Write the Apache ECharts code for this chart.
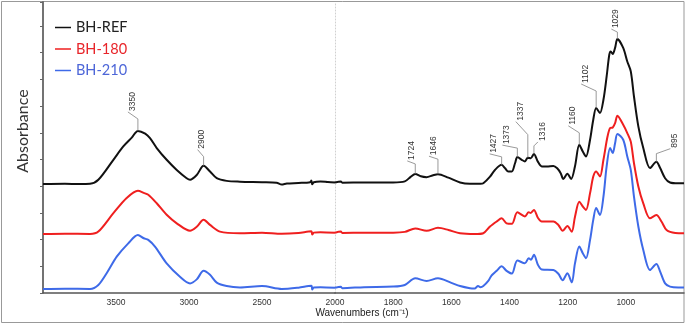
<!DOCTYPE html>
<html>
<head>
<meta charset="utf-8">
<script src="https://cdn.jsdelivr.net/npm/echarts@6/dist/echarts.min.js"></script>
<style>
  html, body { margin: 0; padding: 0; background: #fff; }
  #chart { width: 685px; height: 325px; }
</style>
</head>
<body>
<div id="chart"></div>
<script>
// FTIR spectra, [wavenumber (cm-1), absorbance (offset, arb. units)]
const seriesNames = ['BH-REF', 'BH-180', 'BH-210'];

const refSpectrum = [
  [4000, 0.408], [3850, 0.409], [3750, 0.408], [3678, 0.409], [3621, 0.424], [3518, 0.499],
  [3450, 0.549], [3392, 0.582], [3350, 0.607], [3300, 0.597], [3267, 0.580], [3221, 0.543],
  [3153, 0.499], [3084, 0.461], [3016, 0.430], [2993, 0.424], [2947, 0.442], [2900, 0.477],
  [2856, 0.455], [2810, 0.430], [2742, 0.420], [2651, 0.417], [2500, 0.415], [2400, 0.413],
  [2365, 0.406], [2330, 0.410], [2250, 0.412], [2170, 0.415], [2162, 0.421], [2156, 0.407],
  [2145, 0.415], [2100, 0.418], [2050, 0.416], [2000, 0.414],
  [1980, 0.418], [1975, 0.413], [1900, 0.414], [1800, 0.414], [1760, 0.418], [1740, 0.435],
  [1724, 0.446], [1705, 0.437], [1685, 0.434], [1665, 0.440], [1646, 0.445], [1610, 0.432],
  [1570, 0.414], [1536, 0.409], [1500, 0.409], [1490, 0.411], [1467, 0.436], [1450, 0.461],
  [1427, 0.480], [1415, 0.467], [1404, 0.455], [1392, 0.455], [1381, 0.486], [1373, 0.509],
  [1358, 0.499], [1347, 0.493], [1337, 0.507], [1327, 0.505], [1316, 0.521], [1303, 0.493],
  [1289, 0.474], [1272, 0.474], [1249, 0.476], [1236, 0.467], [1224, 0.449], [1215, 0.427],
  [1201, 0.447], [1188, 0.427], [1175, 0.474], [1160, 0.555], [1148, 0.530], [1137, 0.511],
  [1123, 0.574], [1112, 0.649], [1102, 0.693], [1089, 0.674], [1077, 0.724], [1066, 0.811],
  [1057, 0.892], [1052, 0.905], [1045, 0.895], [1037, 0.918], [1029, 0.951], [1009, 0.918],
  [995, 0.867], [983, 0.830], [972, 0.736], [957, 0.624], [940, 0.543], [917, 0.468],
  [895, 0.492], [882, 0.468], [865, 0.430], [848, 0.414], [820, 0.411], [800, 0.411]
];

const spectrum180 = [
  [4000, 0.221], [3850, 0.222], [3678, 0.221], [3621, 0.230], [3518, 0.299], [3427, 0.356],
  [3350, 0.383], [3310, 0.375], [3279, 0.368], [3221, 0.336], [3153, 0.293], [3084, 0.261],
  [2993, 0.233], [2947, 0.248], [2900, 0.274], [2856, 0.255], [2788, 0.230], [2651, 0.224],
  [2500, 0.226], [2365, 0.222], [2250, 0.225], [2162, 0.231], [2156, 0.219], [2145, 0.226],
  [2100, 0.228], [2000, 0.226],
  [1980, 0.230], [1975, 0.225], [1900, 0.226], [1800, 0.226], [1760, 0.229], [1724, 0.242],
  [1685, 0.233], [1646, 0.244], [1610, 0.236], [1570, 0.224], [1520, 0.221], [1490, 0.224],
  [1467, 0.249], [1444, 0.268], [1427, 0.280], [1410, 0.261], [1392, 0.259], [1373, 0.302],
  [1347, 0.287], [1334, 0.302], [1327, 0.300], [1316, 0.311], [1302, 0.281], [1289, 0.268],
  [1249, 0.268], [1232, 0.255], [1217, 0.233], [1201, 0.251], [1186, 0.229], [1175, 0.285],
  [1160, 0.342], [1148, 0.324], [1137, 0.311], [1123, 0.374], [1112, 0.436], [1102, 0.455],
  [1089, 0.436], [1077, 0.499], [1063, 0.586], [1054, 0.618], [1045, 0.620], [1037, 0.636],
  [1029, 0.664], [1009, 0.630], [995, 0.599], [983, 0.567], [972, 0.486], [957, 0.399],
  [940, 0.336], [917, 0.280], [895, 0.292], [877, 0.267], [860, 0.236], [830, 0.225], [800, 0.224]
];

const spectrum210 = [
  [4000, 0.015], [3850, 0.016], [3678, 0.015], [3621, 0.030], [3564, 0.074], [3495, 0.136],
  [3416, 0.186], [3350, 0.217], [3310, 0.205], [3279, 0.199], [3233, 0.174], [3153, 0.111],
  [3062, 0.061], [2993, 0.036], [2947, 0.051], [2900, 0.083], [2856, 0.068], [2810, 0.039],
  [2742, 0.026], [2651, 0.021], [2500, 0.026], [2365, 0.015], [2250, 0.020], [2162, 0.027],
  [2156, 0.013], [2145, 0.021], [2100, 0.022], [2000, 0.020],
  [1980, 0.023], [1975, 0.018], [1900, 0.022], [1800, 0.024], [1760, 0.030], [1724, 0.055],
  [1685, 0.045], [1646, 0.055], [1600, 0.038], [1570, 0.026], [1536, 0.018], [1520, 0.017],
  [1508, 0.026], [1500, 0.022], [1490, 0.026], [1473, 0.045], [1462, 0.065], [1444, 0.083],
  [1427, 0.100], [1410, 0.083], [1392, 0.073], [1373, 0.122], [1347, 0.111], [1334, 0.130],
  [1326, 0.125], [1316, 0.143], [1302, 0.105], [1289, 0.088], [1249, 0.086], [1232, 0.072],
  [1217, 0.048], [1201, 0.074], [1186, 0.040], [1175, 0.110], [1160, 0.174], [1148, 0.149],
  [1137, 0.130], [1123, 0.199], [1112, 0.274], [1102, 0.318], [1089, 0.292], [1077, 0.361],
  [1066, 0.474], [1054, 0.543], [1045, 0.524], [1037, 0.561], [1029, 0.596], [1009, 0.574],
  [995, 0.511], [983, 0.461], [972, 0.361], [957, 0.249], [940, 0.161], [917, 0.086],
  [895, 0.109], [882, 0.080], [865, 0.036], [848, 0.024], [820, 0.021], [800, 0.021]
];

// labelled peaks on the BH-REF curve
const peakLabels = [3350, 2900, 1724, 1646, 1427, 1373, 1337, 1316, 1160, 1102, 1029, 895];

// leader line shape per label: [vertical px, diagonal dx, diagonal dy]
const leaderShape = [
  [12, -10, -7], [9, -6, -7], [10, -8, -3], [15, -9, -3], [8, -12, -3], [9, -15, -3],
  [23, -12, -13], [8, 4, -4], [12, -11, -7], [17, -15, -7], [7, -6, -3], [8, 14, -5]
];

const colors = ['#111111', '#ef1f1f', '#3e6ae8'];
const legendColors = ['#222222', '#e8252a', '#4d66d8'];
const spectra = [refSpectrum, spectrum180, spectrum210];

const chart = echarts.init(document.getElementById('chart'));

const lineSeries = [];
spectra.forEach((spec, i) => {
  [0, 1].forEach(g => {
    lineSeries.push({
      name: seriesNames[i],
      type: 'line',
      xAxisIndex: g,
      yAxisIndex: g,
      data: spec.filter(p => g === 0 ? p[0] >= 2000 : p[0] <= 2000),
      showSymbol: false,
      symbol: 'none',
      smooth: 0.3,
      lineStyle: { color: colors[i], width: 2 },
      itemStyle: { color: colors[i] },
      z: 3 - i
    });
  });
});

function renderPeak(params, api) {
  const p = api.coord([api.value(0), api.value(1)]);
  const s = leaderShape[api.value(2)];
  const top = [p[0], p[1] - s[0]];
  const end = [top[0] + s[1], top[1] + s[2]];
  return {
    type: 'group',
    children: [
      {
        type: 'polyline',
        shape: { points: [p, top, end] },
        style: { stroke: '#808080', lineWidth: 0.8, fill: null }
      },
      {
        type: 'text',
        x: end[0],
        y: end[1] - 1,
        rotation: Math.PI / 2,
        style: {
          text: String(api.value(0)),
          align: 'left',
          verticalAlign: 'top',
          font: '8.5px "Liberation Sans", Arial, sans-serif',
          fill: '#333'
        }
      }
    ]
  };
}

const peakData = peakLabels.map((w, i) => {
  const pt = refSpectrum.find(p => p[0] === w);
  return [w, pt[1], i];
});

const peakSeries = [0, 1].map(g => ({
  type: 'custom',
  xAxisIndex: g,
  yAxisIndex: g,
  data: peakData.filter(d => g === 0 ? d[0] > 2000 : d[0] < 2000),
  renderItem: renderPeak,
  silent: true,
  clip: false,
  z: 5
}));

const tickFont = {
  fontSize: 8.5,
  fontFamily: '"Liberation Sans", Arial, sans-serif',
  color: '#333',
  formatter: v => String(v)
};

chart.setOption({
  animation: false,
  backgroundColor: '#fff',
  legend: {
    orient: 'vertical',
    left: 50,
    top: 15,
    itemWidth: 16,
    itemHeight: 14,
    itemGap: 6.5,
    icon: 'path://M0,0 L16,0 L16,1.5 L0,1.5 Z',
    textStyle: { fontSize: 14.5, fontFamily: 'Lato, "Open Sans", sans-serif' },
    data: seriesNames.map((n, i) => ({ name: n, textStyle: { color: legendColors[i] } }))
  },
  grid: [
    { left: 43, right: 350, top: 2, bottom: 32 },
    { left: 335, right: 1, top: 2, bottom: 32 }
  ],
  xAxis: [
    {
      type: 'value', gridIndex: 0, inverse: true, min: 2000, max: 4000, interval: 500,
      axisLine: { lineStyle: { color: '#555', width: 1.5 } },
      axisTick: { show: false },
      splitLine: { show: false },
      axisLabel: Object.assign({ margin: 5, showMaxLabel: false }, tickFont)
    },
    {
      type: 'value', gridIndex: 1, inverse: true, min: 800, max: 2000, interval: 200,
      axisLine: { lineStyle: { color: '#555', width: 1.5 } },
      axisTick: { show: false },
      splitLine: { show: false },
      axisLabel: Object.assign({ margin: 5, showMaxLabel: false, showMinLabel: false }, tickFont)
    }
  ],
  yAxis: [
    {
      type: 'value', gridIndex: 0, min: 0, max: 1.09, interval: 0.1,
      axisLine: { show: true, lineStyle: { color: '#444', width: 1.5 } },
      axisTick: { show: true, length: 3, lineStyle: { color: '#666' } },
      axisLabel: { show: false },
      splitLine: { show: false }
    },
    {
      type: 'value', gridIndex: 1, min: 0, max: 1.09, interval: 0.1,
      axisLine: { show: true, lineStyle: { color: '#d0d0d0', width: 1, type: [1, 2] } },
      axisTick: { show: false },
      axisLabel: { show: false },
      splitLine: { show: false }
    }
  ],
  graphic: [
    {
      type: 'rect', z: -10,
      shape: { x: 1.5, y: 1.5, width: 682.5, height: 321 },
      style: { fill: null, stroke: '#999', lineWidth: 1 }
    },
    {
      type: 'text', x: 23, y: 131, rotation: Math.PI / 2,
      style: {
        text: 'Absorbance', align: 'center', verticalAlign: 'middle',
        font: '16px Lato, "Open Sans", sans-serif', fill: '#333'
      }
    },
    {
      type: 'text', x: 362, y: 313,
      style: {
        text: 'Wavenumbers (cm\u207B\u00B9)', align: 'center', verticalAlign: 'middle',
        font: '10px "Liberation Sans", Arial, sans-serif', fill: '#222'
      }
    }
  ],
  series: lineSeries.concat(peakSeries)
});
</script>
</body>
</html>
